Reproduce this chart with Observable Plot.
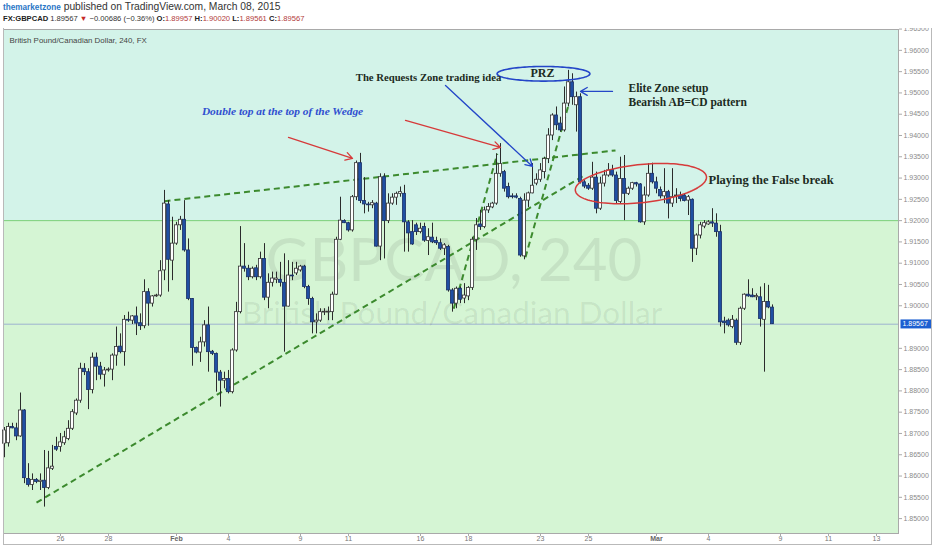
<!DOCTYPE html>
<html><head><meta charset="utf-8">
<script src="https://cdn.jsdelivr.net/npm/d3@7"></script>
<script src="https://cdn.jsdelivr.net/npm/@observablehq/plot@0.6"></script>
<style>
html,body{margin:0;padding:0;background:#fff;width:932px;height:550px;overflow:hidden}
#wrap{position:relative;width:932px;height:550px}
#hdr{position:relative;height:28px;font-family:"Liberation Sans",Arial,sans-serif;color:#333;white-space:nowrap}
#l1{position:absolute;left:3px;top:1px;font-size:10.3px;line-height:12px}
#l2{position:absolute;left:3px;top:13px;font-size:7.6px;line-height:12px}
.u{color:#2a76c6;font-weight:bold;font-size:8.2px}
.b{font-weight:bold;color:#222}
.r{color:#b23a3a}
.tri{color:#c62828}
#outer{position:absolute;left:3px;top:28px;width:927px;height:516px;border:1px solid #b9b9b9;border-top:none;pointer-events:none}
</style></head>
<body><div id="wrap">
<div id="hdr">
<div id="l1"><span class="u">themarketzone</span> published on TradingView.com, March 08, 2015</div>
<div id="l2"><span class="b">FX:GBPCAD</span> 1.89567 <span class="tri">▼</span> −0.00686 (−0.36%) <span class="b">O:</span><span class="r">1.89957</span> <span class="b">H:</span><span class="r">1.90020</span> <span class="b">L:</span><span class="r">1.89561</span> <span class="b">C:</span><span class="r">1.89567</span></div>
</div>
<div id="chart"></div>
<div id="outer"></div>
</div>
<script>
// ---- candle data (4h GBPCAD) ----
const opens = [1.8676,1.8677,1.8715,1.8712,1.8693,1.8754,1.8593,1.8579,1.8591,1.8586,1.8589,1.8572,1.8617,1.8668,1.8668,1.8677,1.8687,1.8711,1.8747,1.8777,
1.8852,1.8844,1.8802,1.8878,1.8857,1.8838,1.8848,1.8850,1.8883,1.8904,1.8891,1.8967,1.8965,1.8975,1.8959,1.8952,1.9032,1.9005,1.9022,1.9024,
1.9083,1.9238,1.9106,1.9146,1.9189,1.9202,1.9130,1.9016,1.8901,1.8890,1.8914,1.8954,1.8892,1.8887,1.8843,1.8824,1.8828,1.8797,1.8895,1.8985,
1.9092,1.9087,1.9067,1.9088,1.9067,1.9110,1.9019,1.9054,1.9061,1.9061,1.9054,1.8998,1.9071,1.9076,1.9083,1.9092,1.9044,1.9016,1.8961,1.8965,
1.8984,1.8984,1.8985,1.9026,1.9155,1.9199,1.9194,1.9177,1.9255,1.9335,1.9246,1.9238,1.9236,1.9240,1.9139,1.9302,1.9199,1.9240,1.9254,1.9263,
1.9263,1.9196,1.9173,1.9189,1.9173,1.9185,1.9152,1.9160,1.9152,1.9147,1.9134,1.9138,1.9036,1.9005,1.9040,1.9017,1.9022,1.9042,1.9155,1.9191,
1.9185,1.9224,1.9231,1.9240,1.9310,1.9314,1.9279,1.9257,1.9257,1.9251,1.9116,1.9247,1.9264,1.9287,1.9296,1.9314,1.9345,1.9400,1.9447,1.9428,
1.9412,1.9475,1.9525,1.9471,1.9490,1.9290,1.9282,1.9275,1.9301,1.9228,1.9287,1.9306,1.9319,1.9306,1.9244,1.9298,1.9263,1.9275,1.9288,1.9285,
1.9196,1.9259,1.9310,1.9290,1.9272,1.9257,1.9267,1.9240,1.9257,1.9259,1.9259,1.9247,1.9249,1.9134,1.9165,1.9186,1.9191,1.9196,1.9193,1.9173,
1.8963,1.8965,1.8950,1.8965,1.8913,1.8993,1.9026,1.9024,1.9020,1.9020,1.8967,1.9009,1.89957];
const highs = [1.8714,1.8724,1.8724,1.8724,1.8795,1.8756,1.8629,1.8605,1.8594,1.8605,1.8660,1.8658,1.8672,1.8691,1.8700,1.8705,1.8730,1.8756,1.8781,1.8865,
1.8864,1.8852,1.8889,1.8889,1.8867,1.8855,1.8854,1.8887,1.8950,1.8934,1.8977,1.8985,1.8977,1.8997,1.8981,1.9061,1.9040,1.9024,1.9027,1.9106,
1.9271,1.9247,1.9208,1.9196,1.9210,1.9247,1.9157,1.9017,1.8903,1.8926,1.8965,1.8997,1.8895,1.8889,1.8848,1.8844,1.8848,1.8899,1.9008,1.9186,
1.9146,1.9095,1.9091,1.9095,1.9126,1.9146,1.9075,1.9079,1.9079,1.9102,1.9122,1.9106,1.9102,1.9102,1.9095,1.9095,1.9048,1.9020,1.8981,1.8993,
1.8993,1.8997,1.9032,1.9161,1.9255,1.9202,1.9196,1.9259,1.9340,1.9358,1.9301,1.9243,1.9247,1.9243,1.9310,1.9310,1.9263,1.9263,1.9267,1.9279,
1.9283,1.9200,1.9200,1.9194,1.9194,1.9194,1.9181,1.9194,1.9161,1.9157,1.9146,1.9142,1.9040,1.9044,1.9044,1.9052,1.9045,1.9161,1.9205,1.9224,
1.9232,1.9240,1.9243,1.9357,1.9381,1.9318,1.9288,1.9263,1.9263,1.9255,1.9263,1.9267,1.9334,1.9310,1.9334,1.9349,1.9416,1.9451,1.9467,1.9443,
1.9514,1.9553,1.9545,1.9502,1.9498,1.9294,1.9287,1.9337,1.9314,1.9302,1.9318,1.9334,1.9330,1.9314,1.9349,1.9353,1.9279,1.9290,1.9290,1.9287,
1.9279,1.9334,1.9335,1.9302,1.9279,1.9322,1.9271,1.9322,1.9275,1.9267,1.9263,1.9259,1.9251,1.9169,1.9196,1.9200,1.9200,1.9228,1.9216,1.9189,
1.8973,1.8969,1.8977,1.8969,1.8997,1.9028,1.9061,1.9040,1.9028,1.9044,1.9052,1.9048,1.90020];
const lows = [1.8643,1.8668,1.8711,1.8683,1.8691,1.8582,1.8574,1.8566,1.8582,1.8566,1.8527,1.8568,1.8613,1.8658,1.8656,1.8672,1.8683,1.8707,1.8742,1.8771,
1.8836,1.8756,1.8793,1.8824,1.8826,1.8809,1.8844,1.8824,1.8858,1.8887,1.8858,1.8961,1.8956,1.8930,1.8942,1.8946,1.8952,1.8997,1.9020,1.9020,
1.9059,1.9032,1.9059,1.9142,1.9177,1.9126,1.9012,1.8858,1.8887,1.8867,1.8903,1.8844,1.8883,1.8797,1.8762,1.8805,1.8793,1.8793,1.8891,1.8981,
1.9079,1.9059,1.9063,1.9059,1.9063,1.9012,1.8993,1.9044,1.9052,1.9044,1.8891,1.8997,1.9059,1.9071,1.9079,1.9040,1.9001,1.8934,1.8934,1.8961,
1.8977,1.8965,1.8965,1.9024,1.9153,1.9193,1.9173,1.9173,1.9247,1.9240,1.9216,1.9220,1.9228,1.9138,1.9106,1.9110,1.9193,1.9236,1.9236,1.9255,
1.9126,1.9126,1.9142,1.9165,1.9169,1.9149,1.9118,1.9146,1.9142,1.9130,1.9118,1.9032,1.8985,1.8993,1.9005,1.9005,1.9012,1.9036,1.9130,1.9177,
1.9181,1.9217,1.9228,1.9236,1.9302,1.9267,1.9251,1.9251,1.9251,1.9114,1.9108,1.9231,1.9263,1.9282,1.9290,1.9298,1.9334,1.9388,1.9412,1.9408,
1.9408,1.9467,1.9471,1.9408,1.9286,1.9275,1.9271,1.9271,1.9216,1.9224,1.9279,1.9302,1.9302,1.9240,1.9240,1.9200,1.9259,1.9271,1.9279,1.9194,
1.9189,1.9255,1.9286,1.9263,1.9251,1.9240,1.9204,1.9231,1.9240,1.9244,1.9244,1.9212,1.9102,1.9118,1.9157,1.9181,1.9189,1.9184,1.9161,1.8950,
1.8934,1.8950,1.8946,1.8907,1.8907,1.8989,1.9020,1.9019,1.9012,1.8950,1.8844,1.8993,1.89561];
const closes = [1.8707,1.8715,1.8712,1.8693,1.8754,1.8595,1.8579,1.8591,1.8586,1.8589,1.8572,1.8618,1.8622,1.8662,1.8679,1.8691,1.8711,1.8750,1.8777,1.8852,
1.8844,1.8802,1.8878,1.8857,1.8838,1.8848,1.8850,1.8883,1.8903,1.8891,1.8967,1.8965,1.8975,1.8958,1.8952,1.9032,1.9005,1.9022,1.9024,1.9081,
1.9240,1.9108,1.9146,1.9189,1.9202,1.9130,1.9016,1.8901,1.8890,1.8914,1.8954,1.8891,1.8887,1.8843,1.8824,1.8828,1.8797,1.8895,1.8985,1.9092,
1.9087,1.9067,1.9087,1.9067,1.9110,1.9019,1.9054,1.9064,1.9064,1.9054,1.8998,1.9071,1.9069,1.9087,1.9092,1.9044,1.9016,1.8961,1.8965,1.8985,
1.8986,1.8986,1.9026,1.9155,1.9200,1.9194,1.9177,1.9255,1.9335,1.9246,1.9238,1.9236,1.9241,1.9139,1.9302,1.9199,1.9240,1.9254,1.9263,1.9267,
1.9196,1.9170,1.9144,1.9173,1.9181,1.9153,1.9161,1.9149,1.9147,1.9134,1.9142,1.9036,1.9005,1.9040,1.9014,1.9024,1.9042,1.9155,1.9189,1.9185,
1.9224,1.9232,1.9240,1.9310,1.9333,1.9275,1.9255,1.9255,1.9254,1.9118,1.9247,1.9264,1.9282,1.9296,1.9318,1.9345,1.9400,1.9447,1.9424,1.9412,
1.9475,1.9525,1.9490,1.9490,1.9290,1.9280,1.9275,1.9301,1.9228,1.9287,1.9306,1.9318,1.9306,1.9246,1.9298,1.9263,1.9275,1.9288,1.9285,1.9196,
1.9259,1.9310,1.9290,1.9275,1.9257,1.9267,1.9240,1.9255,1.9259,1.9251,1.9246,1.9255,1.9134,1.9165,1.9189,1.9194,1.9196,1.9193,1.9173,1.8961,
1.8959,1.8954,1.8967,1.8913,1.8993,1.9026,1.9022,1.9020,1.9023,1.8969,1.9009,1.8996,1.89567];

// ---- axes ----
const tickPos = [15,27,44,57,75,87,105,117,135,147,164,177,195,207,219];
const tickLabels = ["26","28","Feb","4","9","11","16","18","23","25","Mar","4","9","11","13"];
const yTicks = [1.850,1.855,1.860,1.865,1.870,1.875,1.880,1.885,1.890,1.900,1.905,1.910,1.915,1.920,1.925,1.930,1.935,1.940,1.945,1.950,1.955,1.960,1.965];
const xDomain = [0.75, 224.5];
const yDomain = [1.8465, 1.9649];
const lastPrice = 1.89567;
const zoneLevel = 1.92;

// ---- annotations ----
const trendLines = [
  {x1: 9, y1: 1.85376, x2: 145.5, y2: 1.93038},
  {x1: 41, y1: 1.92457, x2: 153.75, y2: 1.93649},
  {x1: 113.3, y1: 1.89928, x2: 124.2, y2: 1.93571},
  {x1: 131.25, y1: 1.91141, x2: 142.1, y2: 1.94746}
];
const redArrows = [
  {x1: 72, y1: 1.93954, x2: 88, y2: 1.93461},
  {x1: 101.25, y1: 1.94354, x2: 125, y2: 1.93719}
];
const blueArrows = [
  {x1: 111.25, y1: 1.95176, x2: 133, y2: 1.93273},
  {x1: 153, y1: 1.95035, x2: 145, y2: 1.95035}
];
const przEllipse = {cx: 135.75, cy: 1.9545, rx: 11.6, ry: 0.00172, tilt: 0};
const falseEllipse = {cx: 160.1, cy: 1.9287, rx: 16.4, ry: 0.0045, tilt: 0.00009};
const requestNote = {x: 107, y: 1.95364, text: "The Requests Zone trading idea"};
const przNote = {x: 135.5, y: 1.95458, text: "PRZ"};
const eliteNotes = [
  {x: 157, y: 1.95105, text: "Elite Zone setup"},
  {x: 157, y: 1.94776, text: "Bearish AB=CD pattern"}
];
const falseNote = {x: 177, y: 1.92943, text: "Playing the False break"};
const wedgeNote = {x: 70.5, y: 1.94565, text: "Double top at the top of the Wedge"};

const candles = opens.map((o, i) => ({i: i + 1, open: o, high: highs[i], low: lows[i], close: closes[i]}));
const angles = d3.range(0, 362, 3);
function ellipsePoints(e) {
  return angles.map(a => {
    const t = a * Math.PI / 180;
    const x = e.cx + e.rx * Math.cos(t);
    return {x, y: e.cy + e.ry * Math.sin(t) + (x - e.cx) * e.tilt};
  });
}
const zones = [
  {y1: zoneLevel, y2: yDomain[1], fill: "#d3f3e9"},
  {y1: yDomain[0], y2: zoneLevel, fill: "#d5f5d4"}
];

const serif = "'Liberation Serif','Times New Roman',serif";
const noteInk = "#1c2b22";
const chart = Plot.plot({
  width: 932, height: 522,
  marginTop: 1, marginBottom: 17, marginLeft: 3, marginRight: 34,
  x: {domain: xDomain, axis: null},
  y: {domain: yDomain, axis: null},
  style: {background: "transparent", fontFamily: "'Liberation Sans',Arial,sans-serif"},
  marks: [
    Plot.rect(zones, {x1: () => xDomain[0], x2: () => xDomain[1], y1: "y1", y2: "y2", fill: "fill"}),
    Plot.ruleY([zoneLevel], {stroke: "#7bcf7b", strokeWidth: 1}),
    Plot.ruleY([lastPrice], {stroke: "#9db3cf", strokeWidth: 1}),
    Plot.text(["GBPCAD, 240"], {frameAnchor: "middle", dx: 3, dy: -20, text: d => d, fontSize: 60, fill: "#000", fillOpacity: 0.075, fontFamily: "Lato, sans-serif"}),
    Plot.text(["British Pound/Canadian Dollar"], {frameAnchor: "middle", dx: 1, dy: 32, text: d => d, fontSize: 31.5, fill: "#000", fillOpacity: 0.075, fontFamily: "Lato, sans-serif"}),
    Plot.text(["British Pound/Canadian Dollar, 240, FX"], {frameAnchor: "top-left", dx: 6, dy: 8, text: d => d, fontSize: 7.9, fill: "#444", textAnchor: "start"}),
    Plot.link(trendLines, {x1: "x1", y1: "y1", x2: "x2", y2: "y2", stroke: "#3c8a2e", strokeWidth: 2, strokeDasharray: "6,4"}),
    Plot.ruleX(candles, {x: "i", y1: "low", y2: "high", stroke: "#2b2b2b", strokeWidth: 1}),
    Plot.rect(candles, {x1: d => d.i - 0.38, x2: d => d.i + 0.38, y1: "open", y2: "close",
      fill: d => d.close >= d.open ? "#ffffff" : "#1f4fa3",
      stroke: d => d.close >= d.open ? "#333333" : "#1a2f66", strokeWidth: 0.8}),
    Plot.arrow(redArrows, {x1: "x1", y1: "y1", x2: "x2", y2: "y2", stroke: "#d63a3a", strokeWidth: 1.3, headLength: 9}),
    Plot.arrow(blueArrows, {x1: "x1", y1: "y1", x2: "x2", y2: "y2", stroke: "#2446c8", strokeWidth: 1.3, headLength: 9}),
    Plot.line(ellipsePoints(przEllipse), {x: "x", y: "y", stroke: "#2446c8", strokeWidth: 1.6}),
    Plot.line(ellipsePoints(falseEllipse), {x: "x", y: "y", stroke: "#d63a3a", strokeWidth: 1.5}),
    Plot.text([requestNote], {x: "x", y: "y", text: "text", fontFamily: serif, fontWeight: "bold", fontSize: 10.7, fill: noteInk}),
    Plot.text([przNote], {x: "x", y: "y", text: "text", fontFamily: serif, fontWeight: "bold", fontSize: 12, fill: noteInk}),
    Plot.text(eliteNotes, {x: "x", y: "y", text: "text", textAnchor: "start", fontFamily: serif, fontWeight: "bold", fontSize: 11.5, fill: noteInk}),
    Plot.text([falseNote], {x: "x", y: "y", text: "text", textAnchor: "start", fontFamily: serif, fontWeight: "bold", fontSize: 12.5, fill: noteInk}),
    Plot.text([wedgeNote], {x: "x", y: "y", text: "text", fontFamily: serif, fontWeight: "bold", fontStyle: "italic", fontSize: 11.4, fill: "#2f4fd0"}),
    Plot.axisY(yTicks, {anchor: "right", tickSize: 3, tickPadding: 2, tickFormat: d => d.toFixed(5), fontSize: 7, fill: "#8a8a8a", stroke: "#aaa"}),
    Plot.axisX(tickPos.filter((d, i) => !isNaN(+tickLabels[i])), {anchor: "bottom", tickSize: 3, tickPadding: 0, tickFormat: d => tickLabels[tickPos.indexOf(d)], fontSize: 7, fill: "#777", stroke: "#aaa"}),
    Plot.axisX(tickPos.filter((d, i) => isNaN(+tickLabels[i])), {anchor: "bottom", tickSize: 3, tickPadding: 0, tickFormat: d => tickLabels[tickPos.indexOf(d)], fontSize: 7, fontWeight: "bold", fill: "#666", stroke: "#aaa"}),
    Plot.text([lastPrice], {y: d => d, frameAnchor: "right", dx: 4, textAnchor: "start", text: d => d.toFixed(5), fontSize: 7, fill: "#fff"}),
    Plot.frame({stroke: "#a9a9a9"})
  ]
});
document.getElementById("chart").appendChild(chart);
// blue box behind the last-price label
const tagText = lastPrice.toFixed(5);
d3.select(chart).selectAll("text").filter(function() { return this.textContent === tagText && this.getAttribute("fill") === "#fff" || (this.textContent === tagText && this.parentNode.getAttribute("fill") === "#fff"); }).each(function() {
  const b = this.getBBox();
  const parent = this.parentNode;
  const host = parent.tagName === "g" ? parent : this.parentNode;
  const r = document.createElementNS("http://www.w3.org/2000/svg", "rect");
  r.setAttribute("x", b.x - 2); r.setAttribute("y", b.y - 1);
  r.setAttribute("width", 33); r.setAttribute("height", b.height + 2);
  r.setAttribute("fill", "#1d5fd1");
  const tf = this.getAttribute("transform");
  if (tf) r.setAttribute("transform", tf);
  host.insertBefore(r, host.firstChild);
});
</script>
</body></html>
